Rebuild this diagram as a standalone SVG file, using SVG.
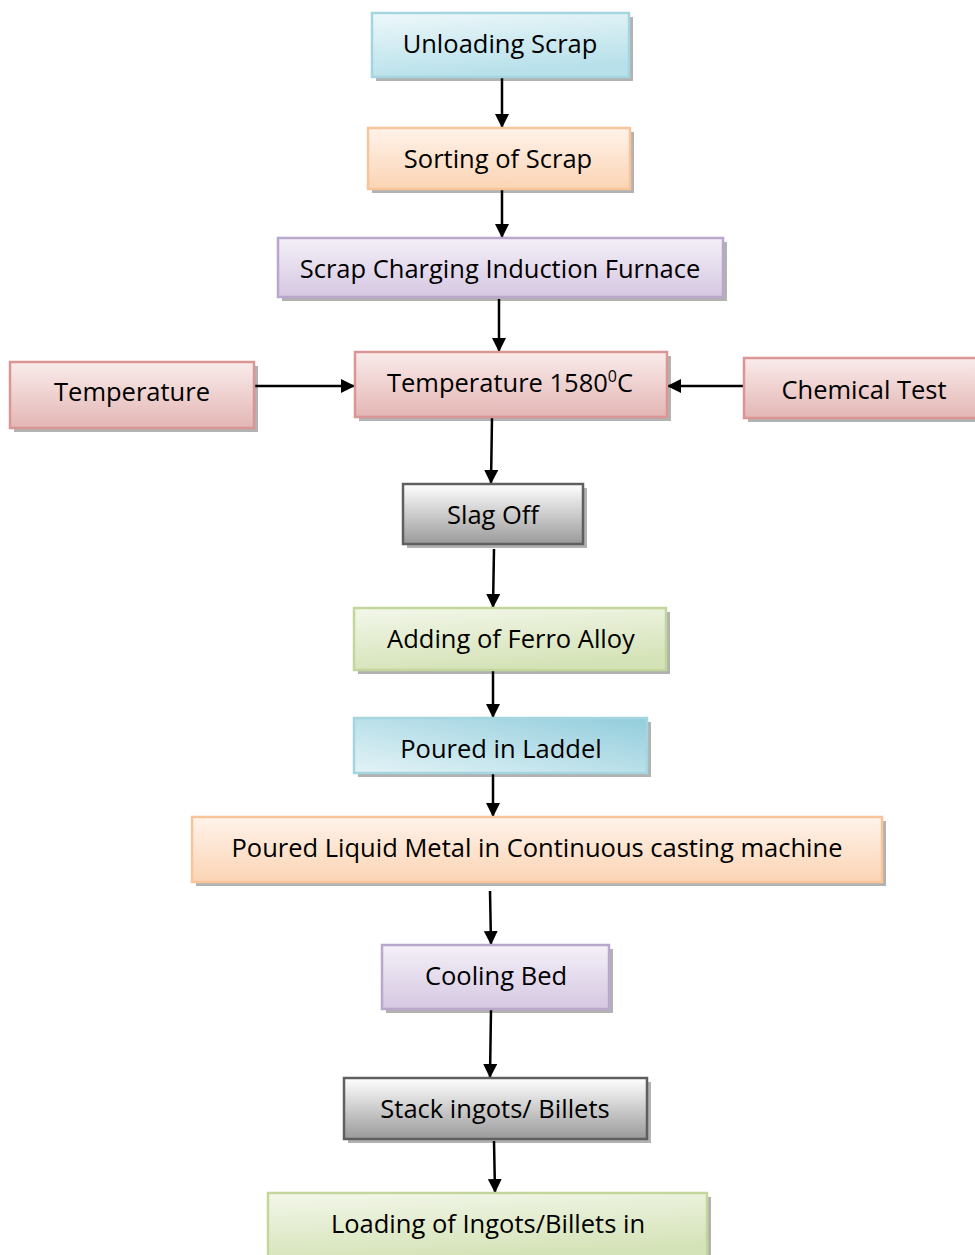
<svg xmlns="http://www.w3.org/2000/svg" width="975" height="1255" viewBox="0 0 975 1255">
<defs>
<linearGradient id="gBlue" x1="0" y1="0" x2="0.3" y2="1"><stop offset="0" stop-color="#eef8fa"/><stop offset="1" stop-color="#b7e0ea"/></linearGradient>
<linearGradient id="gBlue2" x1="0" y1="1" x2="1" y2="0"><stop offset="0" stop-color="#e3f3f7"/><stop offset="1" stop-color="#92cddc"/></linearGradient>
<linearGradient id="gOrange" x1="0" y1="0" x2="0" y2="1"><stop offset="0" stop-color="#fff3ea"/><stop offset="1" stop-color="#fbd4b4"/></linearGradient>
<linearGradient id="gPurple" x1="0" y1="0" x2="0" y2="1"><stop offset="0" stop-color="#f4f0f8"/><stop offset="1" stop-color="#d5c7e1"/></linearGradient>
<linearGradient id="gPink" x1="0" y1="0" x2="0" y2="1"><stop offset="0" stop-color="#f9eceb"/><stop offset="1" stop-color="#e3b6b4"/></linearGradient>
<linearGradient id="gGray" x1="0" y1="0" x2="0" y2="1"><stop offset="0" stop-color="#ffffff"/><stop offset="1" stop-color="#9a9a9a"/></linearGradient>
<linearGradient id="gGreen" x1="0" y1="0" x2="0.3" y2="1"><stop offset="0" stop-color="#f3f7ea"/><stop offset="1" stop-color="#d5e3b8"/></linearGradient>
<marker id="arr" markerWidth="14" markerHeight="14" refX="13" refY="7" orient="auto" markerUnits="userSpaceOnUse"><path d="M0,0 L14,7 L0,14 Z" fill="#000"/></marker>
</defs>
<style>
.sh{fill:#000;opacity:0.3}
.t{font-family:"Open Sans","Liberation Sans",sans-serif;font-size:25.5px;fill:#000;text-anchor:middle}
.blue{fill:url(#gBlue);stroke:#a5d5df;stroke-width:2.5}
.blue2{fill:url(#gBlue2);stroke:#a5d5df;stroke-width:2.5}
.orange{fill:url(#gOrange);stroke:#f8c49a;stroke-width:2.5}
.purple{fill:url(#gPurple);stroke:#b9a8cc;stroke-width:2.5}
.pink{fill:url(#gPink);stroke:#d99694;stroke-width:2.5}
.gray{fill:url(#gGray);stroke:#5f5f5f;stroke-width:2.5}
.green{fill:url(#gGreen);stroke:#c3d69b;stroke-width:2.5}
.c{stroke:#000;stroke-width:2.5;fill:none;marker-end:url(#arr)}
</style>
<g id="connectors">
<line class="c" x1="502" y1="77" x2="502" y2="127"/>
<line class="c" x1="502" y1="190" x2="502" y2="237"/>
<line class="c" x1="499" y1="299" x2="499" y2="351"/>
<line class="c" x1="255" y1="386" x2="354" y2="386"/>
<line class="c" x1="744" y1="386" x2="668" y2="386"/>
<line class="c" x1="492" y1="418" x2="491" y2="483"/>
<line class="c" x1="494" y1="549" x2="493" y2="607"/>
<line class="c" x1="493" y1="671" x2="493" y2="717"/>
<line class="c" x1="493" y1="774" x2="493" y2="816"/>
<line class="c" x1="490" y1="891" x2="491" y2="944"/>
<line class="c" x1="491" y1="1010" x2="490" y2="1077"/>
<line class="c" x1="494" y1="1141" x2="495" y2="1192"/>
</g>
<g id="n1"><rect class="sh" x="376" y="17" width="257" height="64"/><rect class="blue" x="372" y="13" width="257" height="64"/><text class="t" x="500" y="53">Unloading Scrap</text></g>
<g id="n2"><rect class="sh" x="372" y="132" width="262" height="61"/><rect class="orange" x="368" y="128" width="262" height="61"/><text class="t" x="498" y="168">Sorting of Scrap</text></g>
<g id="n3"><rect class="sh" x="282" y="242" width="445" height="59"/><rect class="purple" x="278" y="238" width="445" height="59"/><text class="t" x="500" y="278">Scrap Charging Induction Furnace</text></g>
<g id="n4"><rect class="sh" x="14" y="366" width="244" height="66"/><rect class="pink" x="10" y="362" width="244" height="66"/><text class="t" x="132" y="401">Temperature</text></g>
<g id="n5"><rect class="sh" x="359" y="356" width="312" height="65"/><rect class="pink" x="355" y="352" width="312" height="65"/><text class="t" x="510" y="392">Temperature 1580<tspan dy="-10" font-size="16">0</tspan><tspan dy="10">C</tspan></text></g>
<g id="n6"><rect class="sh" x="748" y="362" width="240" height="60"/><rect class="pink" x="744" y="358" width="240" height="60"/><text class="t" x="864" y="399">Chemical Test</text></g>
<g id="n7"><rect class="sh" x="407" y="488" width="180" height="60"/><rect class="gray" x="403" y="484" width="180" height="60"/><text class="t" x="493" y="524">Slag Off</text></g>
<g id="n8"><rect class="sh" x="358" y="612" width="312" height="62"/><rect class="green" x="354" y="608" width="312" height="62"/><text class="t" x="511" y="648">Adding of Ferro Alloy</text></g>
<g id="n9"><rect class="sh" x="358" y="722" width="293" height="55"/><rect class="blue2" x="354" y="718" width="293" height="55"/><text class="t" x="501" y="758">Poured in Laddel</text></g>
<g id="n10"><rect class="sh" x="196" y="821" width="690" height="65"/><rect class="orange" x="192" y="817" width="690" height="65"/><text class="t" x="537" y="857">Poured Liquid Metal in Continuous casting machine</text></g>
<g id="n11"><rect class="sh" x="386" y="949" width="227" height="64"/><rect class="purple" x="382" y="945" width="227" height="64"/><text class="t" x="496" y="985">Cooling Bed</text></g>
<g id="n12"><rect class="sh" x="348" y="1082" width="303" height="61"/><rect class="gray" x="344" y="1078" width="303" height="61"/><text class="t" x="495" y="1118">Stack ingots/ Billets</text></g>
<g id="n13"><rect class="sh" x="272" y="1197" width="439" height="66"/><rect class="green" x="268" y="1193" width="439" height="66"/><text class="t" x="488" y="1233">Loading of Ingots/Billets in</text></g>
</svg>
